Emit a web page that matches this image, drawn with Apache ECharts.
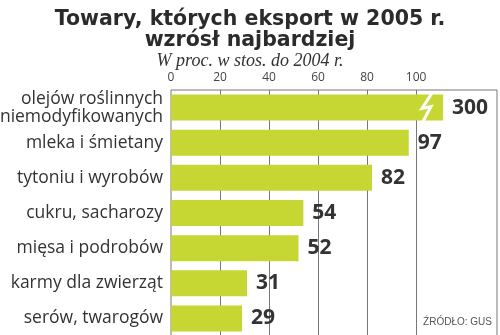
<!DOCTYPE html>
<html><head><meta charset="utf-8">
<script src="https://cdn.jsdelivr.net/npm/echarts@6/dist/echarts.min.js"></script>
<style>html,body{margin:0;padding:0;background:#fff}#c{width:500px;height:335px}</style>
</head><body><div id="c"></div>
<script>
var categories = ['olejów roślinnych\nniemodyfikowanych','mleka i śmietany','tytoniu i wyrobów','cukru, sacharozy','mięsa i podrobów','karmy dla zwierząt','serów, twarogów'];
var values = [300, 97, 82, 54, 52, 31, 29];
var tickLabels = [0, 20, 40, 60, 80, 100];
var capValue = 111;      // drawn length of the broken (off-scale) bar
var breakAt = 104;       // where the break mark sits

var chart = echarts.init(document.getElementById('c'), null, {renderer:'canvas'});
var barData = values.map(function(v){ return Math.min(v, capValue); });
chart.setOption({
  animation:false,
  title:[
    {text:'Towary, których eksport w 2005 r.\nwzrósł najbardziej', left:'center', top:4,
     textStyle:{fontFamily:'DejaVu Sans', fontWeight:'bold', fontSize:20.5, lineHeight:21, color:'#2b2b2b'}},
    {text:'W proc. w stos. do 2004 r.', left:'center', top:47,
     textStyle:{fontFamily:'Liberation Serif', fontStyle:'italic', fontWeight:'normal', fontSize:18, color:'#333'}},
    {text:'ŹRÓDŁO: GUS', right:3, bottom:3,
     textStyle:{fontFamily:'Liberation Sans Narrow, Liberation Sans', fontWeight:'normal', fontSize:10, color:'#555'}}
  ],
  grid:{left:171, right:3, top:90, bottom:-1, outerBoundsMode:'none', containLabel:false,
        show:true, borderColor:'#777', borderWidth:1, backgroundColor:'transparent'},
  xAxis:{type:'value', position:'top', min:0, max:133, interval:20,
    axisLine:{show:false}, axisTick:{show:false}, splitLine:{show:false},
    axisLabel:{margin:6, fontFamily:'Open Sans', fontSize:12, color:'#444',
      formatter:function(v){ return tickLabels.indexOf(v) >= 0 ? String(v) : ''; }}},
  yAxis:{type:'category', data:categories, inverse:true,
    axisLine:{show:false}, axisTick:{show:false},
    axisLabel:{margin:8, fontFamily:'Open Sans', fontSize:17.5, lineHeight:18, color:'#333'}},
  series:[
    {type:'bar', data:barData, barCategoryGap:'26%', z:3,
     itemStyle:{color:'#c6d632'},
     label:{show:true, position:'right', distance:9, fontFamily:'Open Sans', fontWeight:'bold', fontSize:21, color:'#333',
       formatter:function(p){ return String(values[p.dataIndex]); }},
     markLine:{silent:true, symbol:'none', z:1, label:{show:false},
       lineStyle:{color:'#777', width:1, type:'solid'},
       data:tickLabels.filter(function(t){return t>0;}).map(function(t){ return {xAxis:t}; })}
    },
    {type:'custom', z:5, data:[[breakAt, 0]],
     renderItem:function(params, api){
       var c = api.coord([api.value(0), api.value(1)]);
       var h = api.size([0,1])[1]*0.74;
       var t = c[1]-h/2-3, b = c[1]+h/2+3;
       return {type:'polyline', shape:{points:[[c[0]+7,t],[c[0]-4,c[1]+1],[c[0]+5,c[1]-1],[c[0]-4,b]]},
         style:{stroke:'#fff', lineWidth:3, fill:null}};
     }}
  ]
});
</script></body></html>
